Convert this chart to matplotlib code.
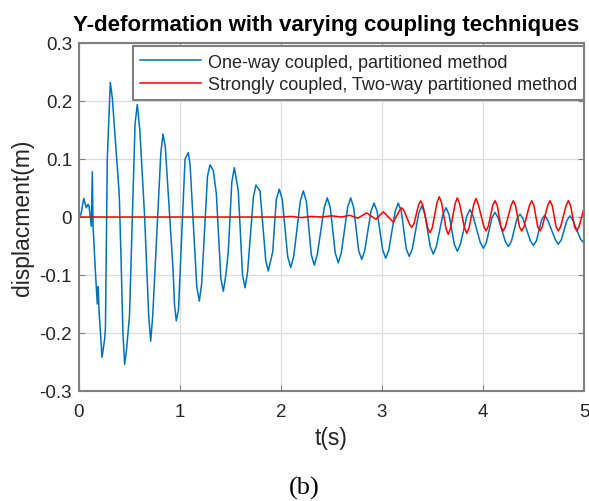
import matplotlib
matplotlib.use("Agg")
import matplotlib.pyplot as plt

plt.rcParams['font.family'] = ['Liberation Sans', 'DejaVu Sans']

# One-way coupled, partitioned method
blue_t = [0.00, 0.02, 0.047, 0.072, 0.09, 0.10, 0.122, 0.132, 0.139, 0.161, 0.181,
          0.19, 0.198, 0.228, 0.254, 0.262, 0.28, 0.31, 0.33, 0.359, 0.396, 0.40,
          0.419, 0.435, 0.452, 0.47, 0.492, 0.50, 0.555, 0.577, 0.602, 0.65, 0.69, 0.71,
          0.73, 0.81, 0.832, 0.854, 0.931, 0.945, 0.963, 0.985, 1.05, 1.082, 1.10,
          1.166, 1.191, 1.215, 1.272, 1.297, 1.33, 1.36, 1.404, 1.429, 1.454, 1.478,
          1.513, 1.538, 1.577, 1.619, 1.644, 1.669, 1.727, 1.752, 1.792, 1.849, 1.874,
          1.918,
          1.953, 1.983, 2.013, 2.066, 2.096, 2.126, 2.191, 2.221, 2.251, 2.30, 2.33, 2.36,
          2.428, 2.458, 2.488, 2.537, 2.567, 2.597, 2.66, 2.69, 2.72, 2.769, 2.799, 2.829,
          2.891, 2.921, 2.951, 3.007, 3.037, 3.067, 3.131, 3.161, 3.191, 3.24, 3.27, 3.30,
          3.363, 3.393, 3.423, 3.478, 3.508, 3.538, 3.604, 3.634, 3.664, 3.716, 3.746, 3.776,
          3.841, 3.871, 3.901, 3.973, 4.003, 4.033, 4.089, 4.119, 4.149, 4.221, 4.251, 4.281,
          4.336, 4.366, 4.396, 4.469, 4.499, 4.529, 4.58, 4.61, 4.64, 4.716, 4.746, 4.776,
          4.831, 4.861, 4.891, 4.965, 4.995]
blue_v = [0.000, 0.005, 0.032, 0.016, 0.022, 0.018, -0.016, 0.078, -0.015, -0.090, -0.150,
          -0.120, -0.160, -0.242, -0.210, -0.190, 0.100, 0.232, 0.205, 0.135, 0.045, 0.030,
          -0.090, -0.200, -0.254, -0.230, -0.185, -0.170, 0.160, 0.194, 0.150, 0.000, -0.170, -0.214,
          -0.170, 0.110, 0.143, 0.122, -0.090, -0.150, -0.179, -0.160, 0.100, 0.111, 0.090,
          -0.120, -0.145, -0.114, 0.070, 0.090, 0.080, 0.040, -0.105, -0.128, -0.100, -0.060,
          0.060, 0.085, 0.045, -0.100, -0.122, -0.095, 0.035, 0.055, 0.045, -0.075, -0.093,
          -0.060,
          0.030, 0.048, 0.030, -0.068, -0.087, -0.068, 0.027, 0.045, 0.027, -0.065, -0.083, -0.064,
          0.016, 0.033, 0.016, -0.062, -0.079, -0.062, 0.017, 0.033, 0.016, -0.058, -0.073, -0.058,
          0.010, 0.024, 0.010, -0.057, -0.071, -0.057, 0.010, 0.024, 0.010, -0.055, -0.068, -0.055,
          0.006, 0.019, 0.006, -0.051, -0.064, -0.051, 0.005, 0.016, 0.004, -0.047, -0.059, -0.047,
          0.002, 0.013, 0.002, -0.044, -0.054, -0.044, -0.001, 0.008, -0.001, -0.042, -0.051, -0.042,
          -0.003, 0.005, -0.003, -0.041, -0.049, -0.041, -0.005, 0.003, -0.005, -0.039, -0.047, -0.039,
          -0.006, 0.002, -0.006, -0.038, -0.044]

# Strongly coupled, two-way partitioned method
red_t = [0.00, 2.00, 2.10, 2.20, 2.30, 2.40, 2.50, 2.60, 2.68, 2.76, 2.849, 2.94,
         3.013, 3.112, 3.173, 3.195, 3.217, 3.272, 3.294, 3.316, 3.361, 3.383, 3.405,
         3.453, 3.475, 3.497, 3.545, 3.567, 3.589, 3.634, 3.656, 3.678, 3.724, 3.746, 3.768,
         3.817, 3.839, 3.861, 3.909, 3.931, 3.953, 4.008, 4.03, 4.052, 4.097, 4.119, 4.141,
         4.178, 4.20, 4.222, 4.278, 4.30, 4.322, 4.361, 4.383, 4.405, 4.46, 4.482, 4.504,
         4.542, 4.564, 4.586, 4.641, 4.663, 4.685, 4.724, 4.746, 4.768, 4.823, 4.845, 4.867,
         4.906, 4.928, 4.95, 4.995]
red_v = [0.000, 0.000, 0.001, -0.001, 0.001, 0.000, 0.002, 0.000, 0.003, -0.002, 0.007, -0.004,
         0.009, -0.009, 0.011, 0.016, 0.011, -0.012, -0.018, -0.012, 0.020, 0.028, 0.020,
         -0.019, -0.027, -0.019, 0.025, 0.035, 0.025, -0.020, -0.030, -0.020, 0.023, 0.033, 0.023,
         -0.019, -0.028, -0.019, 0.022, 0.032, 0.022, -0.016, -0.024, -0.016, 0.020, 0.028, 0.020,
         -0.017, -0.024, -0.017, 0.020, 0.028, 0.020, -0.017, -0.024, -0.017, 0.020, 0.028, 0.020,
         -0.017, -0.024, -0.017, 0.020, 0.028, 0.020, -0.017, -0.024, -0.017, 0.020, 0.028, 0.020,
         -0.017, -0.024, -0.017, 0.012]

labels = ['One-way coupled, partitioned method',
          'Strongly coupled, Two-way partitioned method']
xticks = [0, 1, 2, 3, 4, 5]
yticks = [-0.3, -0.2, -0.1, 0, 0.1, 0.2, 0.3]
ytick_labels = ['-0.3', '-0.2', '-0.1', '0', '0.1', '0.2', '0.3']

fig = plt.figure(figsize=(5.89, 5.02), dpi=100)
ax = fig.add_axes([79 / 589, 1 - 392 / 502, (584 - 79) / 589, (392 - 44) / 502])

ax.plot(blue_t, blue_v, color='#0072BD', lw=1.1, label=labels[0],
        solid_joinstyle='round')
ax.plot(red_t, red_v, color='#FF0000', lw=1.1, label=labels[1],
        solid_joinstyle='round')

ax.set_xlim(0, 5)
ax.set_ylim(-0.3, 0.3)
ax.set_xticks(xticks)
ax.set_xticklabels([str(x) for x in xticks])
ax.set_yticks(yticks)
ax.set_yticklabels(ytick_labels)
ax.grid(True, color='#dcdcdc', lw=0.9)
ax.set_axisbelow(True)
ax.tick_params(direction='in', top=True, right=True, length=4, width=0.8,
               colors='#808080', labelcolor='#262626', labelsize=13.5)
ax.tick_params(axis='x', pad=9)
ax.tick_params(axis='y', pad=5)
for s in ax.spines.values():
    s.set_color('#808080')
    s.set_linewidth(1.5)

ax.set_title('Y-deformation with varying coupling techniques', fontsize=16,
             fontweight='bold', pad=9, x=0.49)
ax.set_xlabel('t(s)', fontsize=16.5, color='#262626', labelpad=4)
ax.set_ylabel('displacment(m)', fontsize=16.5, color='#262626', labelpad=4)

leg = ax.legend(loc='upper right', bbox_to_anchor=(1.0, 0.99), fontsize=13,
                frameon=True, fancybox=False, framealpha=1, edgecolor='#808080',
                handlelength=3.4, handletextpad=0.35, borderpad=0.4, labelspacing=0.3,
                borderaxespad=0.0)
leg.get_frame().set_linewidth(1.5)
for t in leg.get_texts():
    t.set_color('#262626')

fig.text(304 / 589, 1 - 488 / 502, '(b)', ha='center', va='center', fontsize=19,
         family='Liberation Serif')

fig.savefig('out.png', dpi=100)
